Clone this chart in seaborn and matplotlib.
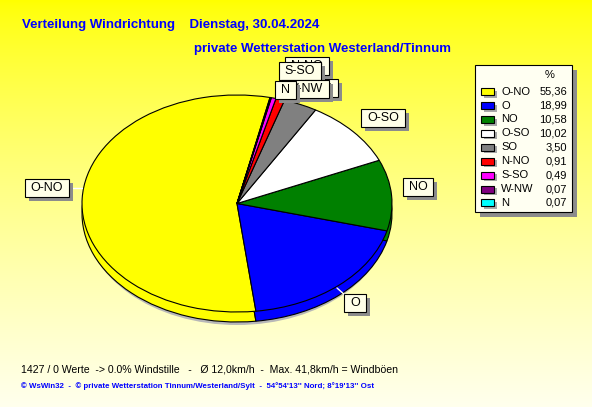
import numpy as np
import matplotlib
matplotlib.use("Agg")
import matplotlib.pyplot as plt
from matplotlib.patches import Rectangle, Ellipse
import seaborn as sns

# wind direction shares (%)
directions = ["O-NO", "O", "NO", "O-SO", "SO", "N-NO", "S-SO", "W-NW", "N"]
shares = [55.36, 18.99, 10.58, 10.02, 3.50, 0.91, 0.49, 0.07, 0.07]
colors = ["#FFFF00", "#0000FF", "#008000", "#FFFFFF", "#808080",
          "#FF0000", "#FF00FF", "#800080", "#00FFFF"]

title_1 = "Verteilung Windrichtung    Dienstag, 30.04.2024"
title_2 = "private Wetterstation Westerland/Tinnum"
footer_1 = "1427 / 0 Werte  -> 0.0% Windstille   -   Ø 12,0km/h  -  Max. 41,8km/h = Windböen"
footer_2 = "© WsWin32  -  © private Wetterstation Tinnum/Westerland/Sylt  -  54°54'13'' Nord; 8°19'13'' Ost"

# label box centres in pixels
label_pos = {"O-NO": (47, 188), "O": (355, 303), "NO": (418, 187), "O-SO": (383, 118),
             "SO": (323, 88), "N-NO": (307, 66), "S-SO": (300, 71), "W-NW": (305, 89),
             "N": (285, 90)}

sns.set_theme(style="white")
plt.rcParams['font.family'] = ['Liberation Sans', 'DejaVu Sans']

W, H = 592, 407
cx, cy, rx, ry = 237, 203.5, 155, 108.5
depth = 10

fig = plt.figure(figsize=(W / 100, H / 100), dpi=100)

# background gradient
bg = fig.add_axes([0, 0, 1, 1])
t = np.linspace(0, 1, 200)[:, None] * np.ones((1, 50))
grad = np.zeros((200, 50, 3))
grad[..., 0] = 1
grad[..., 1] = 1
grad[..., 2] = 0.93 * t ** 0.75
bg.imshow(grad, extent=(0, W, H, 0), aspect='auto', interpolation='bilinear')
bg.set_xlim(0, W)
bg.set_ylim(H, 0)
bg.axis('off')
bg.add_patch(Ellipse((cx, cy + depth + 3), 2 * rx - 4, 2 * ry, color="#B8B8B8", lw=0))

# pie, squashed to an ellipse
pax = fig.add_axes([0, 0, 1, 1])
pax.patch.set_visible(False)
wp = dict(edgecolor="black", linewidth=0.8)
pax.pie(shares, colors=colors, startangle=77.7, counterclock=True,
        center=(0, -depth / ry), wedgeprops=wp)
pax.pie(shares, colors=colors, startangle=77.7, counterclock=True,
        center=(0, 0), wedgeprops=wp)
pax.set_aspect('auto')
pax.set_xlim((0 - cx) / rx, (W - cx) / rx)
pax.set_ylim((cy - H) / ry, cy / ry)
pax.axis('off')

# overlay in pixel coordinates
ov = fig.add_axes([0, 0, 1, 1])
ov.patch.set_visible(False)
ov.set_xlim(0, W)
ov.set_ylim(H, 0)
ov.axis('off')

ov.plot([70, 82], [188, 188], color="white", lw=1)
ov.plot([337, 346], [288, 296], color="white", lw=1)

labels = []
for i, d in enumerate(directions):
    x, y = label_pos[d]
    labels.append(ov.text(x, y, d, fontsize=9, color="black", ha="center",
                          va="center", zorder=12 + 3 * i))

fig.canvas.draw()
rend = fig.canvas.get_renderer()
inv = ov.transData.inverted()
for i, tx in enumerate(labels):
    bb = tx.get_window_extent(rend)
    (x0, y0), (x1, y1) = inv.transform([[bb.x0, bb.y0], [bb.x1, bb.y1]])
    left, top = min(x0, x1) - 6, min(y0, y1) - 3
    w, h = abs(x1 - x0) + 12, abs(y1 - y0) + 6
    ov.add_patch(Rectangle((left + 4, top + 4), w, h, fc="#8C8C8C", ec="none",
                           zorder=10 + 3 * i))
    ov.add_patch(Rectangle((left, top), w, h, fc="#FFFFE8", ec="black", lw=0.8,
                           zorder=11 + 3 * i))

# legend
ov.add_patch(Rectangle((480, 70), 97, 147, fc="#8C8C8C", ec="none"))
ov.add_patch(Rectangle((475, 65), 97, 147, fc="#FFFFF2", ec="black", lw=0.8))
ov.text(550, 75, "%", fontsize=8, ha="center", va="center", color="black")
for i, (d, v, c) in enumerate(zip(directions, shares, colors)):
    y = 91.7 + i * 13.9
    ov.add_patch(Rectangle((484, y - 1), 13, 7, fc="#A8A8A8", ec="none"))
    ov.add_patch(Rectangle((481, y - 3.5), 13, 7, fc=c, ec="black", lw=0.8))
    ov.text(501, y, d, fontsize=8, ha="left", va="center", color="black")
    ov.text(567, y, f"{v:.2f}".replace(".", ","), fontsize=8, ha="right",
            va="center", color="black")

# titles and footer
ov.text(22, 25, title_1, fontsize=9.5, fontweight="bold", color="#0000FF",
        ha="left", va="center")
ov.text(194, 49, title_2, fontsize=9.5, fontweight="bold", color="#0000FF",
        ha="left", va="center")
ov.text(21, 369, footer_1, fontsize=7.6, color="black", ha="left", va="center")
ov.text(21, 386, footer_2, fontsize=5.7, fontweight="bold", color="#0000FF",
        ha="left", va="center")

fig.savefig("out.png", dpi=100)
